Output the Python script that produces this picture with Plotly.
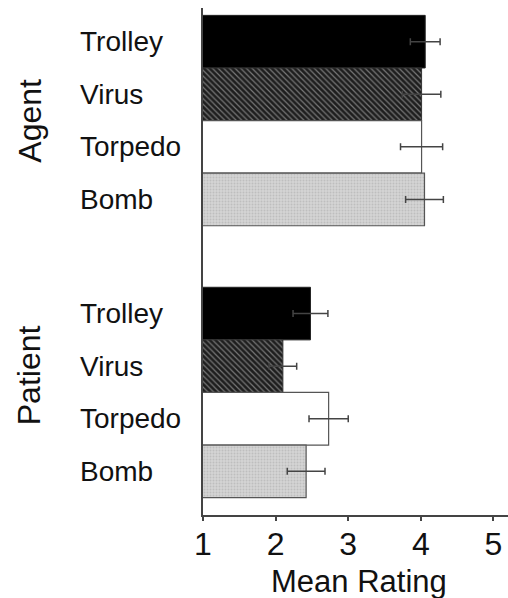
import plotly.graph_objects as go

groups = ["Agent", "Patient"]
instruments = ["Trolley", "Virus", "Torpedo", "Bomb"]
agent_means = [4.06, 4.01, 4.01, 4.05]
agent_err = [0.205, 0.265, 0.29, 0.26]
patient_means = [2.48, 2.10, 2.73, 2.42]
patient_err = [0.24, 0.19, 0.27, 0.26]
x_ticks = [1, 2, 3, 4, 5]
x_title = "Mean Rating"

group_gap = 5.17  # position offset of second group (layout)
pos_agent = [i for i in range(len(instruments))]
pos_patient = [i + group_gap for i in range(len(instruments))]

FONT = "Liberation Sans, Arial"

styles = {
    "Trolley": dict(color="#000000", line=dict(color="#222222", width=1)),
    "Virus": dict(color="#2a2a2a", line=dict(color="#333333", width=1),
                  pattern=dict(shape="\\", fgcolor="#cfcfcf", bgcolor="#1e1e1e",
                               size=4, solidity=0.3, fillmode="overlay")),
    "Torpedo": dict(color="#ffffff", line=dict(color="#555555", width=1.2)),
    "Bomb": dict(color="#cfcfcf", line=dict(color="#555555", width=1.2),
                 pattern=dict(shape=".", fgcolor="#a8a8a8", bgcolor="#d4d4d4",
                              size=3, solidity=0.35, fillmode="overlay")),
}

fig = go.Figure()
for i, name in enumerate(instruments):
    fig.add_trace(go.Bar(
        orientation="h",
        x=[agent_means[i], patient_means[i]],
        y=[pos_agent[i], pos_patient[i]],
        width=1.0,
        marker=styles[name],
        error_x=dict(type="data", array=[agent_err[i], patient_err[i]],
                     color="#444444", thickness=1.5, width=3.5),
        name=name,
        showlegend=False,
        hoverinfo="skip",
    ))

annotations = []
for i, name in enumerate(instruments):
    for p in (pos_agent[i], pos_patient[i]):
        annotations.append(dict(
            x=-0.41, xref="paper", y=p, yref="y", text=name,
            showarrow=False, xanchor="left", yanchor="middle",
            font=dict(family=FONT, size=28, color="#111111"),
        ))
group_y = [1.5, 6.34]
for g, yy in zip(groups, group_y):
    annotations.append(dict(
        x=-0.57, xref="paper", y=yy, yref="y", text=g, textangle=-90,
        showarrow=False, xanchor="center", yanchor="middle",
        font=dict(family=FONT, size=32, color="#111111"),
    ))
annotations.append(dict(
    x=0.51, xref="paper", y=0, yref="paper", yshift=-47, text=x_title,
    showarrow=False, xanchor="center", yanchor="top",
    font=dict(family=FONT, size=31, color="#111111"),
))

fig.update_layout(
    width=508, height=598,
    margin=dict(l=203, r=0, t=8, b=83),
    paper_bgcolor="white", plot_bgcolor="white",
    barmode="overlay",
    annotations=annotations,
    font=dict(family=FONT, color="#111111"),
)
fig.update_xaxes(
    range=[1, 5.2], tickvals=x_ticks, ticktext=[str(t) for t in x_ticks],
    showline=True, linecolor="#444444", linewidth=2,
    ticks="outside", ticklen=4, tickwidth=1.5, tickcolor="#444444",
    tickfont=dict(size=32, family=FONT, color="#111111"),
    ticklabelstandoff=-4,
    showgrid=False, zeroline=False, automargin=False,
)
fig.update_yaxes(
    range=[9.0, -0.64], showticklabels=False, ticks="",
    showline=True, linecolor="#444444", linewidth=2,
    showgrid=False, zeroline=False, automargin=False,
)

fig.write_html("out.html", config={"displayModeBar": False},
               post_script="document.body.style.margin='0';document.body.style.overflow='hidden';")
